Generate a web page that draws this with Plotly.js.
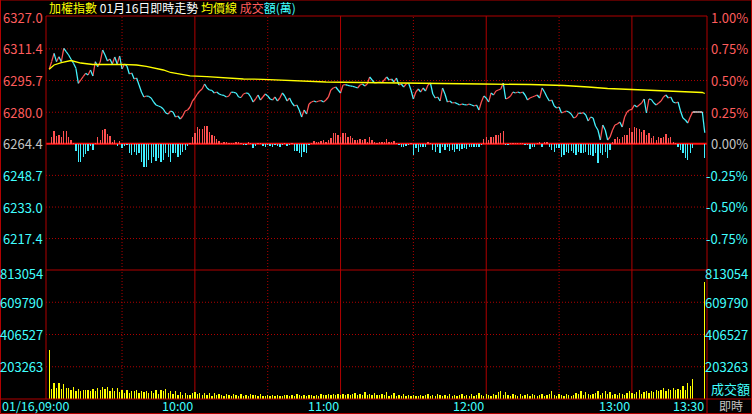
<!DOCTYPE html>
<html><head><meta charset="utf-8">
<script src="https://cdn.plot.ly/plotly-3.0.1.min.js"></script>
<style>html,body{margin:0;padding:0;background:#000;overflow:hidden}#chart{width:752px;height:414px}</style>
</head><body><div id="chart"></div>
<script>
// ---------- data ----------
const prevClose = 6264.4;
const dateLabel = '01/16,09:00';
const priceTicks = [6327.0, 6311.4, 6295.7, 6280.0, 6264.4, 6248.7, 6233.0, 6217.4];
const pctTicks = [1.00, 0.75, 0.50, 0.25, 0.00, -0.25, -0.50, -0.75];
const volTicks = [813054, 609790, 406527, 203263];
const hourTicks = [60, 120, 180, 240];
const hourLabels = ['10:00', '11:00', '12:00', '13:00'];
const halfHourTicks = [30, 90, 150, 210];
const closeTick = 270, closeLabel = '13:30';

// index value, one per minute from 09:00 (index 0) to 13:30 (index 270)
const price = [
6301.28,6305.04,6309.20,6305.04,6307.52,6305.04,6311.68,6310.00,6308.36,6306.23,
6304.25,6301.77,6294.34,6295.97,6297.61,6299.29,6298.45,6300.93,6297.95,6305.04,
6302.56,6304.89,6310.84,6308.36,6305.39,6306.38,6303.90,6307.37,6303.90,6307.87,
6301.42,6303.90,6302.91,6298.95,6299.44,6296.47,6296.96,6293.49,6290.02,6287.55,
6288.04,6287.80,6287.05,6285.07,6283.58,6283.09,6282.59,6281.60,6279.62,6279.12,
6280.61,6280.11,6277.63,6278.13,6276.64,6278.13,6280.61,6281.10,6282.59,6285.56,
6287.05,6289.03,6290.52,6291.51,6293.99,6292.01,6291.02,6290.80,6289.53,6290.02,
6289.03,6288.54,6288.30,6287.55,6288.04,6290.02,6289.80,6289.53,6287.55,6287.30,
6289.03,6289.53,6289.30,6287.55,6285.07,6286.56,6288.54,6286.06,6287.55,6289.03,
6288.04,6286.56,6286.06,6287.55,6285.56,6287.05,6289.53,6288.04,6285.56,6287.05,
6284.57,6283.09,6283.58,6281.10,6277.63,6281.10,6279.12,6284.08,6285.07,6285.56,
6285.07,6285.56,6285.80,6285.07,6286.06,6287.55,6291.02,6292.01,6292.50,6291.02,
6289.53,6293.49,6293.70,6293.30,6293.00,6292.80,6292.50,6292.01,6293.49,6293.99,
6293.00,6293.99,6297.46,6295.97,6294.49,6294.70,6294.98,6294.70,6295.97,6297.46,
6295.97,6296.47,6294.98,6296.96,6293.49,6293.99,6292.50,6293.99,6294.49,6291.02,
6286.56,6290.02,6291.51,6290.02,6292.01,6290.52,6293.49,6294.49,6289.03,6287.05,
6287.55,6285.56,6292.01,6289.03,6285.07,6285.56,6284.57,6284.80,6284.30,6283.58,
6284.08,6283.80,6283.58,6284.08,6283.58,6283.09,6283.58,6281.10,6285.07,6288.04,
6287.05,6285.07,6289.53,6288.54,6290.52,6291.02,6291.51,6294.49,6286.56,6287.05,
6288.04,6290.02,6289.53,6290.02,6289.53,6290.02,6288.54,6286.06,6287.05,6287.55,
6288.04,6288.54,6287.05,6292.01,6290.02,6287.55,6285.56,6286.06,6283.09,6282.10,
6282.59,6279.62,6280.11,6280.61,6280.11,6279.12,6277.14,6277.63,6279.62,6279.40,
6279.80,6278.63,6275.65,6277.63,6277.14,6273.17,6271.19,6266.24,6273.67,6271.19,
6266.24,6267.72,6271.19,6273.67,6274.17,6275.16,6272.68,6277.63,6280.11,6281.10,
6281.40,6283.58,6282.59,6283.58,6284.57,6286.56,6279.62,6286.56,6286.30,6284.57,
6283.58,6284.57,6285.56,6287.55,6288.54,6287.05,6287.55,6285.07,6284.57,6285.07,
6280.61,6277.14,6276.15,6274.66,6277.63,6280.11,6280.11,6280.11,6280.11,6280.11,
6269.85];

// average-price line (minute index, value)
const avgMinute = [0,2,5,9,13,18,30,36,40,43,47,50,54,58,65,73,80,88,95,104,114,128,158,165,178,198,212,222,230,240,252,262,269,270];
const avgPrice = [6301.28,6303.41,6304.64,6305.63,6304.39,6303.65,6303.75,6303.41,6302.76,6301.92,6300.93,6299.69,6298.80,6298.05,6297.61,6296.96,6296.47,6296.32,6295.97,6295.48,6294.98,6294.74,6294.49,6294.24,6293.99,6293.74,6293.25,6292.50,6291.76,6291.26,6290.52,6290.02,6289.78,6289.28];

// red / cyan momentum bars around the reference line, one per minute
const strength = [
0,6.3,13,7.7,8.7,6.3,13,13,7,3.7,
1,-7,-18,-18,-13,-10,-7,-2,-6.3,1,
6.3,3.7,13.7,15,9.7,7.7,1.5,3.7,-2.3,3,
-4.7,-2.3,-1,-9.7,-11.3,-8,-11.3,-9.7,-18,-23,
-23,-16.3,-19,-13,-17,-14.7,-18,-16.3,-9.7,-13,
-18,-9.7,-9.7,-13,-11.3,-8,-6.3,-2.3,1,6.3,
10.3,16.3,14.3,14.3,17.7,17.7,12,8.7,7.7,4.3,
3,1,1.7,1.3,0.7,0.7,0.7,2,1.7,0.7,
-1.3,-1,2,0.7,-4.7,-2.3,0.7,0.7,-2.3,-3,
-1,-2.3,-3,-1,-2.3,-3,-1,0.7,-2.3,-1,
0.7,-7,-7,-9,-13,-8,-9,-1,0.7,2.7,
2,2,2.7,3.7,2,3.7,5.3,10.3,10.3,8.7,
6.3,10.3,10.3,7,7.7,5.3,3.7,3.7,4.3,3.7,
4.3,2,6.3,3.7,2,1,2,2,2,4.7,
2,2,2.7,0.7,-1,-3,-3,-2.3,-1,1,
-11.3,-4.7,-8.3,-3.7,-3.7,-3,2,0.7,-6.3,-8,
-3,-9.7,-3.7,-6.3,-3.7,-7.3,-6.3,-8.3,-5.7,-7.3,
-5.7,-4.7,-5.7,-3.7,-3.7,-3.7,-3,-3.7,-1,4.3,
6.3,3.7,6.3,7,8.7,8.7,10.3,13,-1.3,-1,
1,1,1,0.7,1,0.7,-1,-1,-5.7,-3.7,
-3,1,2,-3.7,1.7,2,-3.7,-6.3,-8,-4.7,
-4.7,-13,-11.3,-8,-9.7,-7,-9.7,-11.3,-8,-9.7,
-9.7,-8,-11.3,-11.3,-12.3,-9.7,-19.7,-9.7,-11.3,-8,
-14.7,-6.3,2,4.3,6.3,4.3,6.3,8.7,8.7,15.3,
12,16.3,15.3,14.3,12,13.7,8.7,10.3,5.3,7.7,
3.7,6.3,5.3,7,9.7,5.3,7,2,1,-3,
-6.3,-9.7,-14.7,-16.3,-9.7,-4.7,0,0,0,0,
-14.7];

// turnover per minute (萬), none during the 13:25-13:30 call auction
const volume = [
310700,63000,100800,69300,100800,63000,94500,69300,69300,58600,
75600,48500,63000,48500,58600,54800,58600,48500,63000,48500,
69300,54800,75600,63000,75600,48500,69300,48500,69300,42200,
58600,37800,58600,37800,48500,48500,54800,37800,48500,42200,
48500,37800,48500,37800,58600,33400,54800,48500,63000,37800,
48500,33400,48500,27100,42200,27100,37800,27100,27100,37800,
42200,33400,37800,27100,37800,27100,37800,20800,37800,27100,
33400,27100,20800,33400,27100,20800,33400,27100,20800,33400,
20800,27100,20800,33400,27100,27100,20800,33400,20800,20800,
27100,20800,27100,20800,27100,20800,20800,27100,27100,20800,
27100,20800,33400,27100,20800,27100,20800,27100,27100,20800,
27100,20800,33400,27100,27100,33400,27100,33400,27100,33400,
27100,33400,27100,33400,27100,33400,37800,27100,33400,27100,
42200,27100,33400,27100,37800,27100,27100,33400,27100,42200,
20800,27100,37800,20800,27100,20800,33400,20800,27100,20800,
27100,17000,20800,27100,20800,27100,33400,20800,27100,20800,
33400,27100,20800,27100,20800,33400,20800,27100,20800,27100,
33400,20800,27100,20800,33400,20800,27100,37800,27100,20800,
33400,27100,20800,33400,27100,42200,48500,27100,42200,27100,
20800,33400,27100,20800,33400,20800,27100,33400,20800,33400,
27100,20800,27100,33400,20800,27100,33400,48500,27100,20800,
33400,27100,20800,33400,27100,20800,27100,37800,33400,48500,
27100,42200,33400,27100,33400,37800,48500,27100,37800,48500,
33400,42200,27100,33400,27100,37800,33400,27100,37800,48500,
37800,33400,42200,54800,33400,42200,48500,37800,48500,42200,
58600,48500,54800,69300,48500,63000,54800,69300,54800,63000,
58600,80000,58600,100800,80000,126100,null,null,null,null,
734900];

// ---------- style ----------
const C = {
  up:'#ff5454', down:'#44f4ff', flat:'#ffffff', avg:'#ffff00', vol:'#ffff00',
  barUp:'#ff5050', barDown:'#40eeff', grid:'#b00000', zero:'#ff1010',
  lblUp:'#ff5c5c', lblZero:'#c4c4c4', lblDown:'#40ffff'
};
const FONT = '"Liberation Sans Narrow", "Noto Sans CJK TC", sans-serif';
const L = 46, R = 707, T = 16, B = 399, W = R - L, H = B - T;
const fx = p => (p - L) / W;
const fy = p => (B - p) / H;
const split = fy(270);

const minutes = price.map((_, i) => i);

// split line into up / down / unchanged segments
const seg = {up:{x:[],y:[]}, down:{x:[],y:[]}, flat:{x:[],y:[]}};
for (let i = 1; i < price.length; i++) {
  const k = price[i] > price[i-1] ? 'up' : (price[i] < price[i-1] ? 'down' : 'flat');
  seg[k].x.push(minutes[i-1], minutes[i], null);
  seg[k].y.push(price[i-1], price[i], null);
}

const traces = [];
['up','down','flat'].forEach(k => traces.push({
  type:'scatter', mode:'lines', x:seg[k].x, y:seg[k].y, xaxis:'x', yaxis:'y',
  line:{color:C[k], width:1.25}, hoverinfo:'skip', connectgaps:false
}));
traces.push({type:'scatter', mode:'lines', x:avgMinute, y:avgPrice, xaxis:'x', yaxis:'y',
  line:{color:C.avg, width:1.3}, hoverinfo:'skip'});
traces.push({type:'bar', x:minutes, y:strength, xaxis:'x', yaxis:'y3', width:0.55,
  marker:{color:strength.map(v => v >= 0 ? C.barUp : C.barDown), line:{width:0}}, hoverinfo:'skip'});
traces.push({type:'bar', x:minutes, y:volume, xaxis:'x', yaxis:'y2', width:0.55,
  marker:{color:C.vol, line:{width:0}}, hoverinfo:'skip'});

// ---------- decorations ----------
const shapes = [];
const solid = {color:C.grid, width:1};
const dotted = {color:C.grid, width:1, dash:'1px,2px'};
priceTicks.forEach(v => { if (v !== priceTicks[0] && v !== prevClose)
  shapes.push({type:'line', xref:'paper', x0:0, x1:1, yref:'y', y0:v, y1:v, line:dotted, layer:'below'}); });
volTicks.slice(1).forEach(v =>
  shapes.push({type:'line', xref:'paper', x0:0, x1:1, yref:'y2', y0:v, y1:v, line:dotted, layer:'below'}));
halfHourTicks.forEach(t =>
  shapes.push({type:'line', xref:'x', x0:t, x1:t, yref:'paper', y0:0, y1:1, line:dotted, layer:'below'}));
hourTicks.forEach(t =>
  shapes.push({type:'line', xref:'x', x0:t, x1:t, yref:'paper', y0:0, y1:1, line:solid, layer:'below'}));
shapes.push({type:'line', xref:'paper', x0:0, x1:1, yref:'y', y0:prevClose, y1:prevClose, line:{color:C.zero, width:2}, layer:'below'});
// frame lines
shapes.push({type:'line', xref:'paper', yref:'paper', x0:0, x1:1, y0:1, y1:1, line:solid});
shapes.push({type:'line', xref:'paper', yref:'paper', x0:0, x1:1, y0:split, y1:split, line:solid});
shapes.push({type:'line', xref:'paper', yref:'paper', x0:0, x1:0, y0:0, y1:1, line:solid});
shapes.push({type:'line', xref:'paper', yref:'paper', x0:1, x1:1, y0:fy(414), y1:1, line:solid});
shapes.push({type:'line', xref:'paper', yref:'paper', x0:fx(0), x1:fx(752), y0:0, y1:0, line:solid});
shapes.push({type:'rect', xref:'paper', yref:'paper', x0:fx(0.5), x1:fx(751.5), y0:fy(413.5), y1:fy(0), line:solid});

const ann = [];
const A = (o) => ann.push(Object.assign({showarrow:false, font:{family:FONT, size:13}}, o));
const lblColor = v => v > 0 ? C.lblUp : (v < 0 ? C.lblDown : C.lblZero);
priceTicks.forEach((v, i) => {
  A({xref:'paper', x:fx(45), xanchor:'right', yref:'y', y:v, yanchor:'middle', text:v.toFixed(1),
     font:{family:FONT, size:13, color:lblColor(v - prevClose)}});
});
pctTicks.forEach(p => {
  A({xref:'paper', x:fx(750), xanchor:'right', yref:'y', y:prevClose * (1 + p / 100), yanchor:'middle',
     text:p.toFixed(2) + '%', font:{family:FONT, size:13, color:lblColor(p)}});
});
volTicks.forEach((v, i) => {
  const ys = i === 0 ? -3 : 0;
  A({xref:'paper', x:fx(45), xanchor:'right', yref:'y2', y:v, yanchor:'middle', yshift:ys, text:String(v),
     font:{family:FONT, size:13, color:C.lblDown}});
  A({xref:'paper', x:fx(750), xanchor:'right', yref:'y2', y:v, yanchor:'middle', yshift:ys, text:String(v),
     font:{family:FONT, size:13, color:C.lblDown}});
});
const BOT = 405.5;
A({xref:'paper', x:fx(1), xanchor:'left', yref:'paper', y:fy(BOT), yanchor:'middle', text:dateLabel,
   borderpad:0, font:{family:FONT, size:12.5, color:C.lblDown}});
hourTicks.forEach((t, i) => A({xref:'x', x:t, xanchor:'right', xshift:-1, yref:'paper', y:fy(BOT), yanchor:'middle',
   borderpad:0, text:hourLabels[i], font:{family:FONT, size:12.5, color:C.lblDown}}));
A({xref:'x', x:closeTick, xanchor:'right', xshift:0, yref:'paper', y:fy(BOT), yanchor:'middle',
   borderpad:0, text:closeLabel, font:{family:FONT, size:12.5, color:C.lblDown}});
A({xref:'paper', x:fx(731), xanchor:'center', yref:'paper', y:fy(388), yanchor:'middle', text:'成交額',
   font:{family:FONT, size:13, color:C.lblDown}});
A({xref:'paper', x:fx(731), xanchor:'center', yref:'paper', y:fy(BOT), yanchor:'middle', text:'即時',
   borderpad:0, font:{family:FONT, size:12, color:C.lblZero}});
A({xref:'paper', x:fx(47), xanchor:'left', yref:'paper', y:fy(8), yanchor:'middle',
   text:'<span style="color:#ffff00">加權指數</span> <span style="color:#ffffff">01月16日即時走勢</span> ' +
        '<span style="color:#ffff00">均價線</span> <span style="color:#ff5c5c">成交</span><span style="color:#40ffff">額(萬)</span>',
   font:{family:FONT, size:12, color:'#ffffff'}});

const pxPerMin = 2.428;
const x0 = -(49.2 - L) / pxPerMin;
const layout = {
  width:752, height:414, margin:{l:L, r:752 - R, t:T, b:414 - B, pad:0},
  paper_bgcolor:'#000', plot_bgcolor:'#000', showlegend:false,
  xaxis:{range:[x0, x0 + W / pxPerMin], showgrid:false, zeroline:false, showticklabels:false, ticks:'', showline:false, fixedrange:true},
  yaxis:{domain:[split, 1], range:[prevClose - 126.3 * 0.4956, prevClose + 127.7 * 0.4956],
         showgrid:false, zeroline:false, showticklabels:false, ticks:'', showline:false},
  yaxis3:{overlaying:'y', range:[-126.3, 127.7], visible:false, showgrid:false, zeroline:false},
  yaxis2:{domain:[0, split], range:[0, 813054], showgrid:false, zeroline:false, showticklabels:false, ticks:'', showline:false},
  shapes:shapes, annotations:ann, bargap:0
};
Plotly.newPlot('chart', traces, layout, {staticPlot:true, displayModeBar:false});
</script></body></html>
